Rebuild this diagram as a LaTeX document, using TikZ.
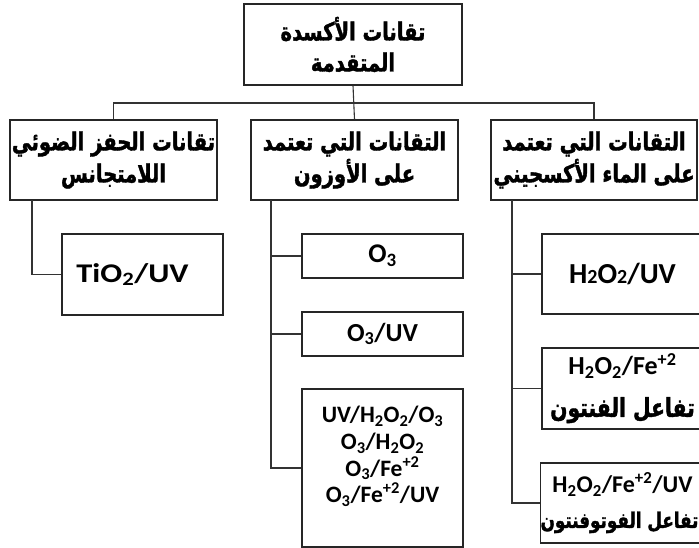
\documentclass[tikz,border=0pt]{standalone}
\usepackage{fontspec}
\setmainfont{Carlito}
\newfontfamily\arabicfont[Script=Arabic,FakeStretch=0.78,FakeBold=1.5]{DejaVu Sans}
\newfontfamily\widelatin[FakeStretch=1.2]{Carlito}
\TeXXeTstate=1
\newcommand\artext[1]{\beginR#1\endR}
\newcommand\chsub[1]{\textsubscript{#1}}
\newcommand\chsup[1]{\textsuperscript{#1}}
\begin{document}
\begin{tikzpicture}[x=1pt,y=1pt,
  box/.style={draw=black!85, line width=1.1pt, inner sep=0pt, align=center, font=\bfseries},
  arbox/.style={box, font=\arabicfont\bfseries\fontsize{25}{32}\selectfont},
  link/.style={draw=black!80, line width=1.1pt}
]
\useasboundingbox (0,0) rectangle (699,-547);
\begin{scope}
\clip (0,0) rectangle (699,-547);
% top
\node[arbox, minimum width=218pt, minimum height=81pt, font=\arabicfont\bfseries\fontsize{25}{31}\selectfont] (top) at (353,-44.5) {\artext{تقانات الأكسدة}\\\artext{المتقدمة}};
% second row
\node[arbox, minimum width=207pt, minimum height=80pt] (rl) at (113.5,-160) {\artext{تقانات الحفز الضوئي}\\\artext{اللامتجانس}};
\node[arbox, minimum width=207pt, minimum height=80pt] (rm) at (354.5,-160) {\artext{التقانات التي تعتمد}\\\artext{على الأوزون}};
\node[arbox, minimum width=206pt, minimum height=80pt] (rr) at (594,-160) {\artext{التقانات التي تعتمد}\\\artext{على الماء الأكسجيني}};
% children left
\node[box, minimum width=161pt, minimum height=81pt, font=\widelatin\bfseries\fontsize{27}{30}\selectfont] (tio) at (142.5,-274.5) {TiO\chsub{2}/UV\hspace*{20pt}};
% children middle
\node[box, minimum width=161pt, minimum height=44pt, font=\bfseries\fontsize{27}{28}\selectfont] (o3) at (382.5,-256) {O\chsub{3}};
\node[box, minimum width=161pt, minimum height=44pt, font=\bfseries\fontsize{26}{28}\selectfont] (o3uv) at (382.5,-334) {O\chsub{3}/UV};
\node[box, minimum width=161pt, minimum height=158pt, font=\bfseries\fontsize{23.5}{26.7}\selectfont] (big) at (382.5,-468) {UV/H\chsub{2}O\chsub{2}/O\chsub{3}\\O\chsub{3}/H\chsub{2}O\chsub{2}\\O\chsub{3}/Fe\chsup{+2}\\O\chsub{3}/Fe\chsup{+2}/UV\\\mbox{}};
% children right
\node[box, minimum width=161pt, minimum height=80pt, font=\bfseries\fontsize{29}{32}\selectfont] (h2uv) at (622.5,-274) {H{\fontsize{20}{20}\selectfont 2}O{\fontsize{20}{20}\selectfont 2}/UV};
\node[box, minimum width=161pt, minimum height=81pt, font=\bfseries\fontsize{26}{42}\selectfont] (fen) at (622.5,-388.5) {H\chsub{2}O\chsub{2}/Fe\chsup{+2}\\{\arabicfont\bfseries\fontsize{26}{42}\selectfont\artext{تفاعل الفنتون}}};
\node[box, minimum width=161pt, minimum height=80pt, font=\bfseries\fontsize{24}{35}\selectfont] (pfen) at (622.5,-503) {H\chsub{2}O\chsub{2}/Fe\chsup{+2}/UV\\{\arabicfont\bfseries\fontsize{21.5}{35}\selectfont\artext{تفاعل الفوتوفنتون}}\hspace*{6pt}};
\end{scope}
% connectors
\coordinate (hub) at (354,-103);
\draw[link] (top.south) -- (rm.north);
\draw[link] (rl.north) |- (hub) -| (rr.north);
\coordinate (lb) at (32,-200);
\coordinate (mb) at (271,-200);
\coordinate (rb) at (512,-200);
\draw[link] (lb) |- (tio.west);
\draw[link] (mb) |- (big.west);
\draw[link] (o3.west) -- (o3.west -| mb);
\draw[link] (o3uv.west) -- (o3uv.west -| mb);
\draw[link] (rb) |- (pfen.west);
\draw[link] (h2uv.west) -- (h2uv.west -| rb);
\draw[link] (fen.west) -- (fen.west -| rb);
\end{tikzpicture}
\end{document}
